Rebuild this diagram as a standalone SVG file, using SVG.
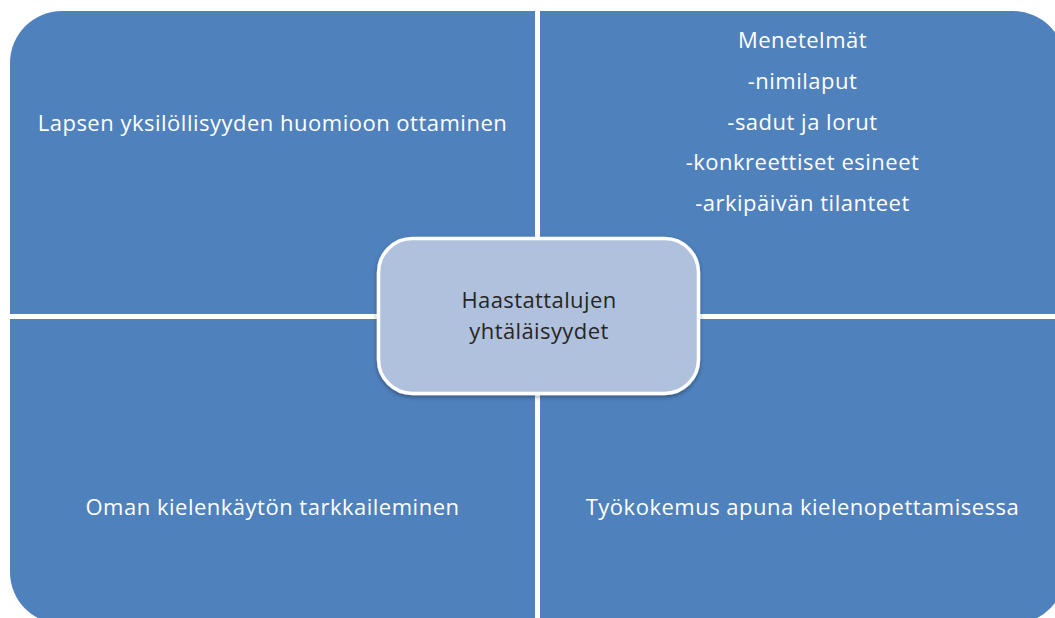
<svg xmlns="http://www.w3.org/2000/svg" width="1055" height="618" viewBox="0 0 1055 618">
  <defs>
    <style>
      .quad { fill: #4F81BD; }
      .qt { font-family: "Open Sans", "Liberation Sans", sans-serif; font-size: 22px; letter-spacing: 0.5px; fill: #FFFFFF; text-anchor: middle; }
      .ct { font-family: "Open Sans", "Liberation Sans", sans-serif; font-size: 22px; letter-spacing: 0.4px; fill: #262626; text-anchor: middle; }
    </style>
    <filter id="sh" x="-10%" y="-10%" width="120%" height="130%">
      <feGaussianBlur in="SourceAlpha" stdDeviation="2"/>
      <feOffset dx="0" dy="1.5" result="b"/>
      <feComponentTransfer><feFuncA type="linear" slope="0.35"/></feComponentTransfer>
      <feMerge><feMergeNode/><feMergeNode in="SourceGraphic"/></feMerge>
    </filter>
  </defs>
  <rect width="1055" height="618" fill="#FFFFFF"/>

  <g id="quad-tl">
    <path class="quad" d="M10,63 A52,52 0 0 1 62,11 L535,11 L535,314 L10,314 Z"/>
    <text class="qt" x="272.5" y="131">Lapsen yksilöllisyyden huomioon ottaminen</text>
  </g>
  <g id="quad-tr">
    <path class="quad" d="M540,11 L1013,11 A52,52 0 0 1 1065,63 L1065,314 L540,314 Z"/>
    <text class="qt" x="802.5" y="48">Menetelmät</text>
    <text class="qt" x="802.5" y="89">-nimilaput</text>
    <text class="qt" x="802.5" y="129.5">-sadut ja lorut</text>
    <text class="qt" x="802.5" y="170">-konkreettiset esineet</text>
    <text class="qt" x="802.5" y="211">-arkipäivän tilanteet</text>
  </g>
  <g id="quad-bl">
    <path class="quad" d="M10,319 L535,319 L535,624 L62,624 A52,52 0 0 1 10,572 Z"/>
    <text class="qt" x="272.5" y="515">Oman kielenkäytön tarkkaileminen</text>
  </g>
  <g id="quad-br">
    <path class="quad" d="M540,319 L1065,319 L1065,572 A52,52 0 0 1 1013,624 L540,624 Z"/>
    <text class="qt" x="802.5" y="515">Työkokemus apuna kielenopettamisessa</text>
  </g>

  <g id="connectors"></g>

  <g id="center">
    <rect x="378.5" y="238.5" width="320" height="155" rx="34" ry="34" fill="#B0C1DD" stroke="#FFFFFF" stroke-width="3.5" filter="url(#sh)"/>
    <text class="ct" x="539" y="308">Haastattalujen</text>
    <text class="ct" x="539" y="339">yhtäläisyydet</text>
  </g>
</svg>
